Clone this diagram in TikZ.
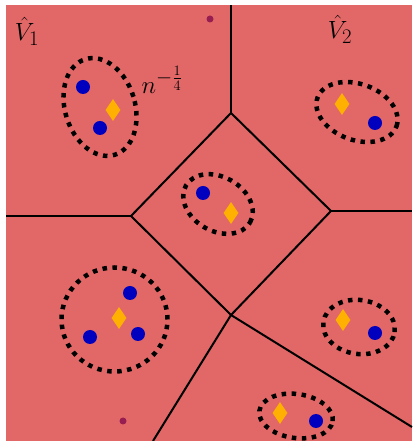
\documentclass[tikz,border=0pt]{standalone}
\usepackage{amsmath,amssymb}
\usepackage{tikz}
\usetikzlibrary{shapes.geometric}
\definecolor{cellred}{RGB}{226,104,104}
\definecolor{ptblue}{RGB}{0,0,190}
\definecolor{ctrgold}{RGB}{255,176,0}
\definecolor{tinyplum}{RGB}{150,30,80}
\tikzset{edge/.style={line width=2pt,black},
  cluster/.style={line width=4.5pt,dash pattern=on 4.5pt off 5.5pt,black},
  pt/.style={circle,fill=ptblue,inner sep=0pt,minimum size=14pt},
  ctr/.style={diamond,fill=ctrgold,inner sep=0pt,minimum width=15pt,minimum height=22pt},
  speck/.style={circle,fill=tinyplum,inner sep=0pt,minimum size=7pt},
  lbl/.style={font=\fontsize{28}{32}\selectfont,inner sep=0pt}}

\begin{document}
\begin{tikzpicture}[x=1pt,y=1pt]
\useasboundingbox (0,0) rectangle (413,441);
\fill[cellred] (6,0) rectangle (412,436);
% cell vertices and ends on the frame
\coordinate (vA) at (131,225);
\coordinate (vB) at (231,328);
\coordinate (vC) at (331,230);
\coordinate (vD) at (231,126);
\coordinate (eL) at (6,225);
\coordinate (eT) at (231,436);
\coordinate (eR) at (412,230);
\coordinate (eBL) at (153,0);
\coordinate (eBR) at (412,14);
\draw[edge] (vA)--(vB)--(vC)--(vD)--cycle;
\draw[edge] (vA)--(eL);
\draw[edge] (vB)--(eT);
\draw[edge] (vC)--(eR);
\draw[edge] (vD)--(eBL);
\draw[edge] (vD)--(eBR);
% clusters
\draw[cluster] (100,334) ellipse [x radius=35,y radius=50,rotate=17];
\draw[cluster] (357,329) ellipse [x radius=42,y radius=28,rotate=-20];
\draw[cluster] (218,237) ellipse [x radius=37,y radius=27,rotate=-30];
\draw[cluster] (114.5,121.5) ellipse [x radius=53,y radius=52];
\draw[cluster] (359,114) ellipse [x radius=36,y radius=27,rotate=-8];
\draw[cluster] (296,25) ellipse [x radius=37,y radius=22,rotate=-8];
% points
\foreach \p/\q in {a1/{(83,354)},a2/{(100,313)},b1/{(375,318)},c1/{(203,248)},
  d1/{(130,148)},d2/{(90,104)},d3/{(138,107)},e1/{(375,108)},f1/{(316,20)}}
  \node[pt] (p\p) at \q {};
\foreach \p/\q in {a/{(113,331)},b/{(342,337)},c/{(231,228)},d/{(119,123)},e/{(343,121)},f/{(280,28)}}
  \node[ctr] (m\p) at \q {};
\node[speck] (s1) at (210,422) {};
\node[speck] (s2) at (123,20) {};
% labels
\node[lbl] (v1) at (27,410) {$\hat V_1$};
\node[lbl] (v2) at (340,412) {$\hat V_2$};
\node[lbl] (rad) at (162,361) {$n^{-\frac{1}{4}}$};
\end{tikzpicture}
\end{document}
